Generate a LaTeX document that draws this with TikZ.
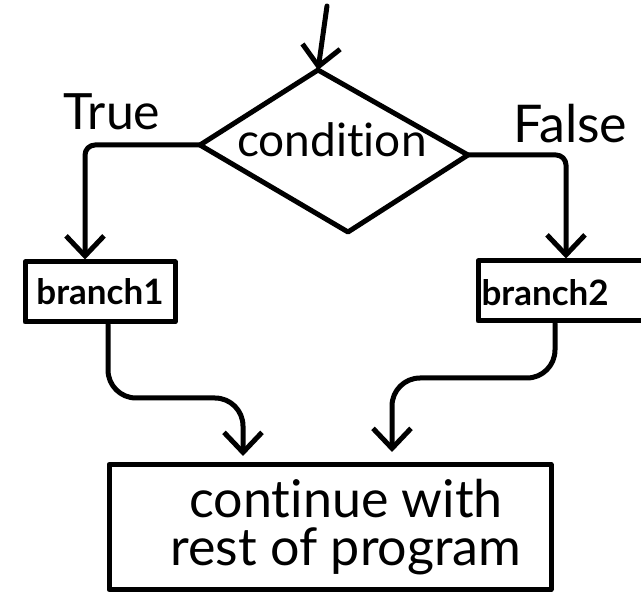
\documentclass[tikz,border=0pt]{standalone}
\usepackage{fontspec}
\setmainfont{Lato}[Ligatures=NoCommon]
\usetikzlibrary{arrows.meta}
\begin{document}
\begin{tikzpicture}[x=1pt,y=-1pt,
  ink/.style={line width=5pt,line join=round,line cap=round},
  arr/.style={ink,-{Straight Barb[length=20pt,width=38pt,line width=5pt]}},
  boxnode/.style={ink,draw,rectangle,inner sep=0pt},
  hand/.style={font=\fontsize{#1}{#1}\selectfont},
  boldhand/.style={font=\bfseries\fontsize{#1}{#1}\selectfont},
]
\useasboundingbox (0,0) rectangle (641,596);
\clip (0,0) rectangle (641,596);

% decision diamond
\coordinate (dtop) at (318,70);
\coordinate (dleft) at (200,145);
\coordinate (dright) at (468,155);
\coordinate (dbot) at (348,232);
\draw[ink] (dtop) -- (dright) -- (dbot) -- (dleft) -- cycle;
\node[hand=46pt] (cond) at (332,140) {condition};

% incoming flow
\coordinate (start) at (327,6);
\draw[arr] (start) -- (dtop);

% branch labels
\node[hand=50pt] (tlabel) at (112,112) {True};
\node[hand=52pt,anchor=west] (flabel) at (510,124) {False};

% branch boxes
\node[boxnode,minimum width=150pt,minimum height=60pt] (b1) at (100,292) {};
\node[boldhand=35pt] (b1t) at (b1) {branch1};
\node[boxnode,minimum width=180pt,minimum height=60pt] (b2) at (568,291) {};
\node[boldhand=35pt,anchor=west] (b2t) at (478,293) {branch2};

% merge box
\node[boxnode,minimum width=442pt,minimum height=125pt] (rest) at (330,527) {};
\node[align=center,font=\fontsize{52pt}{48pt}\selectfont] (restt) at (346,527) {continue with\\rest of program};

% branch connectors
\draw[arr,rounded corners=10pt] (dleft) -- (85,145) -- ([xshift=-15pt]b1.north);
\draw[arr,rounded corners=10pt] (dright) -- (566,155) -- ([xshift=-2pt]b2.north);

% merging connectors
\draw[arr,rounded corners=28pt,shorten >=6pt]
  ([xshift=8pt]b1.south) -- (108,398) -- (243,398) -- ([xshift=-87pt]rest.north);
\draw[arr,rounded corners=28pt,shorten >=10pt]
  ([xshift=-13pt]b2.south) -- (555,378) -- (392,378) -- ([xshift=62pt]rest.north);
\end{tikzpicture}
\end{document}
